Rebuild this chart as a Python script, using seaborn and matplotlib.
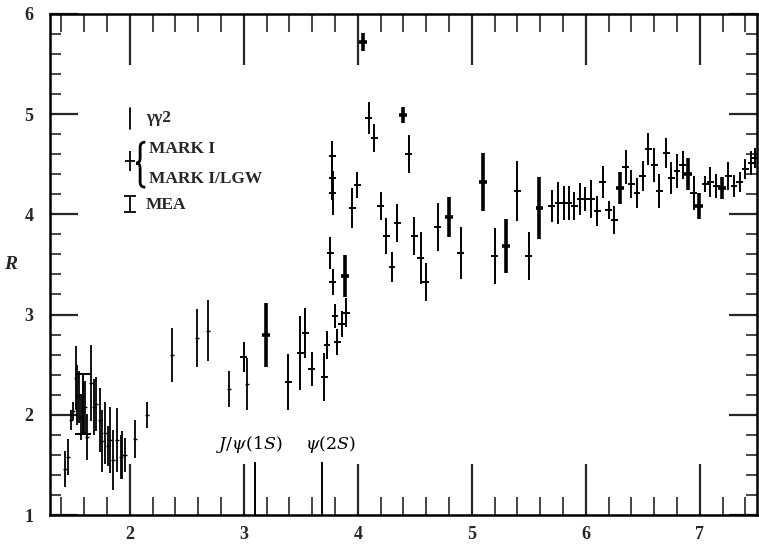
import matplotlib
matplotlib.use("Agg")
import matplotlib.pyplot as plt
from matplotlib.path import Path
from matplotlib.patches import PathPatch
from matplotlib.ticker import MultipleLocator, FixedLocator
import seaborn as sns

# gamma-gamma 2 measurements: sqrt(s) [GeV], R, error
gg2_sqrt_s = [1.427, 1.456, 1.482, 1.500, 1.524, 1.538, 1.553, 1.573, 1.610, 1.628,
              1.660, 1.684, 1.705, 1.734, 1.757, 1.778, 1.810, 1.830, 1.848, 1.883,
              1.918, 1.930, 1.956, 2.044, 2.150, 2.366, 2.585, 2.687, 2.868, 3.026]
gg2_R = [1.46, 1.58, 1.95, 2.04, 2.37, 2.20, 2.18, 1.98, 2.08, 1.78,
         2.32, 2.08, 2.11, 1.95, 1.74, 1.82, 1.69, 1.75, 1.55, 1.75,
         1.58, 1.60, 1.60, 1.76, 2.00, 2.60, 2.77, 2.84, 2.26, 2.31]
gg2_err = [0.18, 0.18, 0.10, 0.09, 0.32, 0.30, 0.26, 0.23, 0.26, 0.23,
           0.38, 0.28, 0.27, 0.32, 0.31, 0.31, 0.20, 0.33, 0.30, 0.32,
           0.22, 0.24, 0.17, 0.19, 0.13, 0.27, 0.29, 0.30, 0.18, 0.26]

# MEA
mea_sqrt_s = [1.590]
mea_R = [2.11]
mea_err = [0.30]

# MARK I
mark1_sqrt_s = [3.000, 3.390, 3.497, 3.540, 3.594, 3.704, 3.730, 3.760, 3.775, 3.775,
                3.780, 3.780, 3.800, 3.820, 3.857, 3.900, 3.950, 3.997, 4.096, 4.146,
                4.200, 4.248, 4.300, 4.348, 4.447, 4.497, 4.550, 4.594, 4.700, 4.904,
                5.200, 5.400, 5.500, 5.700, 5.757, 5.807, 5.850, 5.900, 5.950, 5.997,
                6.050, 6.100, 6.150, 6.200, 6.250, 6.350, 6.400, 6.450, 6.500, 6.547,
                6.600, 6.646, 6.705, 6.750, 6.800, 6.850, 6.947, 7.050, 7.094, 7.146,
                7.250, 7.300, 7.350, 7.400, 7.450, 7.485]
mark1_R = [2.58, 2.33, 2.62, 2.82, 2.46, 2.38, 2.70, 3.61, 4.58, 4.36,
           4.21, 3.32, 2.99, 2.73, 2.91, 3.02, 4.06, 4.29, 4.96, 4.76,
           4.08, 3.78, 3.47, 3.91, 4.60, 3.78, 3.56, 3.32, 3.87, 3.61,
           3.58, 4.23, 3.58, 4.08, 4.11, 4.11, 4.11, 4.08, 4.15, 4.15,
           4.15, 4.03, 4.32, 4.04, 3.94, 4.47, 4.30, 4.21, 4.38, 4.65,
           4.49, 4.23, 4.61, 4.36, 4.43, 4.49, 4.21, 4.30, 4.32, 4.28,
           4.38, 4.28, 4.32, 4.45, 4.51, 4.56]
mark1_err = [0.15, 0.28, 0.37, 0.25, 0.17, 0.24, 0.14, 0.16, 0.15, 0.22,
             0.22, 0.13, 0.12, 0.13, 0.13, 0.14, 0.20, 0.13, 0.16, 0.14,
             0.14, 0.18, 0.15, 0.19, 0.19, 0.19, 0.26, 0.19, 0.24, 0.26,
             0.28, 0.30, 0.24, 0.16, 0.21, 0.17, 0.17, 0.14, 0.16, 0.12,
             0.19, 0.15, 0.16, 0.09, 0.14, 0.17, 0.14, 0.15, 0.15, 0.16,
             0.17, 0.17, 0.15, 0.16, 0.17, 0.14, 0.17, 0.08, 0.15, 0.12,
             0.14, 0.11, 0.10, 0.10, 0.12, 0.10]

# MARK I / LGW
lgw_sqrt_s = [3.193, 3.886, 4.046, 4.395, 4.800, 5.100, 5.300, 5.594, 6.300, 6.897,
              6.997, 7.196]
lgw_R = [2.80, 3.38, 5.72, 4.99, 3.97, 4.32, 3.68, 4.06, 4.26, 4.40,
         4.08, 4.26]
lgw_err = [0.32, 0.21, 0.09, 0.08, 0.20, 0.29, 0.27, 0.31, 0.16, 0.16,
           0.13, 0.11]

# narrow charmonium resonances
res_mass = [3.097, 3.686]
res_height = [1.53, 1.53]
res_labels = [r"$J/\psi(1S)$", r"$\psi(2S)$"]
res_label_x = [3.05, 3.755]

x_ticks = [2, 3, 4, 5, 6, 7]
y_ticks = [1, 2, 3, 4, 5, 6]

sns.set_theme(style="ticks")
plt.rcParams["font.family"] = ["Liberation Serif", "DejaVu Serif"]
plt.rcParams["mathtext.fontset"] = "dejavuserif"

fig = plt.figure(figsize=(7.59, 5.52), dpi=100)
ax = fig.add_axes([0.066, 0.067, 0.931, 0.908])

k = "black"
ax.errorbar(gg2_sqrt_s, gg2_R, yerr=gg2_err, fmt="none", ecolor=k, elinewidth=1.3)
sns.scatterplot(x=gg2_sqrt_s, y=gg2_R, marker="_", s=10, color=k, linewidth=1.0,
                ax=ax, legend=False)
ax.errorbar(mea_sqrt_s, mea_R, yerr=mea_err, fmt="none", ecolor=k, elinewidth=1.4,
            capsize=6, capthick=1.4)
ax.errorbar(mark1_sqrt_s, mark1_R, yerr=mark1_err, xerr=0.03, fmt="none", ecolor=k,
            elinewidth=1.4)
ax.errorbar(lgw_sqrt_s, lgw_R, yerr=lgw_err, xerr=0.035, fmt="none", ecolor=k,
            elinewidth=2.6)

ax.vlines(res_mass, 1.0, res_height, color=k, lw=1.4)
for xm, lab in zip(res_label_x, res_labels):
    ax.text(xm, 1.70, lab, ha="center", va="center", fontsize=12.5, color=k)

# key
ax.plot([2.0, 2.0], [4.85, 5.06], color=k, lw=1.3)
ax.text(2.14, 4.96, "γγ2", fontsize=12.5, fontweight="bold", va="center", ha="left")
ax.errorbar([2.0], [4.53], yerr=[0.1], xerr=[0.045], fmt="none", ecolor=k, elinewidth=1.3)

# curly brace grouping the two MARK I entries
bx_tip, bx_mid, bx_end = 2.055, 2.09, 2.135
by_top, by_mid, by_bot = 4.72, 4.51, 4.27
brace = Path(
    [(bx_end, by_top), (bx_mid, by_top), (bx_mid, by_top - 0.05),
     (bx_mid, by_mid + 0.05), (bx_mid, by_mid), (bx_tip, by_mid),
     (bx_mid, by_mid), (bx_mid, by_mid - 0.05),
     (bx_mid, by_bot + 0.05), (bx_mid, by_bot), (bx_end, by_bot)],
    [Path.MOVETO, Path.CURVE3, Path.CURVE3,
     Path.LINETO, Path.CURVE3, Path.CURVE3,
     Path.CURVE3, Path.CURVE3,
     Path.LINETO, Path.CURVE3, Path.CURVE3])
ax.add_patch(PathPatch(brace, facecolor="none", edgecolor=k, lw=2.0,
                       capstyle="butt"))

ax.text(2.165, 4.65, "MARK I", fontsize=12.5, fontweight="bold", va="center", ha="left")
ax.text(2.165, 4.35, "MARK I/LGW", fontsize=12.5, fontweight="bold", va="center", ha="left")
ax.errorbar([2.0], [4.10], yerr=[0.08], fmt="none", ecolor=k, elinewidth=1.3,
            capsize=4, capthick=1.3)
ax.text(2.14, 4.09, "MEA", fontsize=12.5, fontweight="bold", va="center", ha="left")

ax.set_xlim(1.3, 7.5)
ax.set_ylim(1.0, 6.0)
ax.xaxis.set_major_locator(FixedLocator(x_ticks))
ax.yaxis.set_major_locator(FixedLocator(y_ticks))
ax.xaxis.set_minor_locator(MultipleLocator(0.2))
ax.yaxis.set_minor_locator(MultipleLocator(0.2))
ax.tick_params(axis="x", which="major", direction="in", length=37, width=1.6,
               top=True, bottom=True, labelsize=13, pad=8)
ax.tick_params(axis="x", which="minor", direction="in", length=13, width=1.2,
               top=True, bottom=True)
ax.tick_params(axis="y", which="major", direction="in", length=20, width=1.6,
               left=True, right=True, labelsize=13, pad=12)
ax.tick_params(axis="y", which="minor", direction="in", length=8, width=1.2,
               left=True, right=True)
for lab in ax.get_xticklabels() + ax.get_yticklabels():
    lab.set_fontweight("bold")
for sp in ax.spines.values():
    sp.set_linewidth(1.8)
    sp.set_color(k)

ax.set_ylabel("R", rotation=0, fontsize=14, fontweight="bold", fontstyle="italic",
              labelpad=10, va="center")
ax.set_xlabel("")

fig.savefig("out.png", dpi=100)
